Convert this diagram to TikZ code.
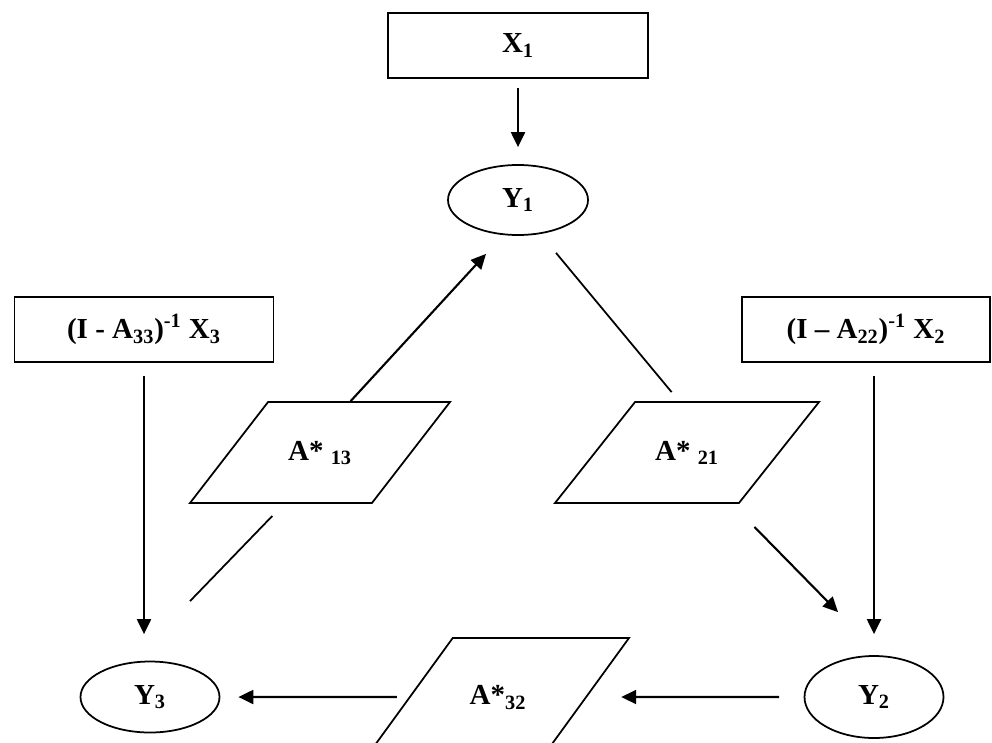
\documentclass[tikz,border=0pt]{standalone}
\usepackage{fontspec}
\setmainfont{Liberation Serif}
\usetikzlibrary{arrows.meta,shapes.geometric,calc}

\begin{document}
\begin{tikzpicture}[
    box/.style={draw, line width=1pt, inner sep=0pt, font=\bfseries\fontsize{16.5}{19}\selectfont},
    oval/.style={draw, ellipse, line width=1pt, inner sep=0pt, font=\bfseries\fontsize{16.5}{19}\selectfont},
    para/.style={draw, trapezium, trapezium stretches body, line width=1pt, inner xsep=0pt,
        text height=0.4cm, text depth=0.1cm, font=\bfseries\fontsize{16.5}{19}\selectfont},
    arr/.style={-{Triangle[length=0.3cm, width=0.28cm]}, line width=1.2pt},
    ln/.style={line width=1pt}
]
\useasboundingbox (0,0) rectangle (19.84,-14.84);
\clip (0,0) rectangle (19.84,-14.84);

\node[box, minimum width=5.2cm, minimum height=1.3cm] (x1) at (10.36,-0.91) {X\textsubscript{1}};
\node[oval, minimum width=2.8cm, minimum height=1.4cm] (y1) at (10.36,-4.0) {Y\textsubscript{1}};
\node[box, minimum width=5.18cm, minimum height=1.3cm] (lbox) at (2.88,-6.59) {(I - A\textsubscript{33})\textsuperscript{-1} X\textsubscript{3}};
\node[box, minimum width=4.96cm, minimum height=1.3cm] (rbox) at (17.32,-6.59) {(I – A\textsubscript{22})\textsuperscript{-1} X\textsubscript{2}};

\node[para, trapezium left angle=52.3, trapezium right angle=127.7, inner ysep=0.76cm, minimum width=5.2cm] (a13) at (6.4,-9.05) {A* \textsubscript{13}};
\node[para, trapezium left angle=51.6, trapezium right angle=128.4, inner ysep=0.76cm, minimum width=5.28cm] (a21) at (13.74,-9.05) {A* \textsubscript{21}};
\node[para, trapezium left angle=54, trapezium right angle=126, inner ysep=0.93cm, minimum width=5.24cm] (a32) at (9.96,-13.94) {A*\textsubscript{32}};

\node[oval, minimum width=2.78cm, minimum height=1.64cm] (y2) at (17.48,-13.94) {Y\textsubscript{2}};
\node[oval, minimum width=2.78cm, minimum height=1.42cm] (y3) at (3.0,-13.94) {Y\textsubscript{3}};

\draw[arr, shorten <=0.18cm, shorten >=0.34cm] (x1) -- (y1);
\draw[arr] ([xshift=1.66cm]a13.top left corner) -- ([xshift=-0.64cm,yshift=-0.36cm]y1.south);
\draw[ln] ([xshift=0.76cm,yshift=-0.34cm]y1.south) -- ([xshift=0.74cm,yshift=0.18cm]a21.top left corner);
\draw[arr] ([xshift=0.3cm,yshift=-0.46cm]a21.bottom right corner) -- ([xshift=-0.72cm,yshift=0.86cm]y2.north);
\draw[arr, shorten <=0.26cm, shorten >=0.42cm] (rbox.south -| y2.north) -- (y2.north);
\draw[arr, shorten <=0.26cm, shorten >=0.53cm] (lbox.south) -- (lbox.south |- y3.north);
\draw[ln] ([xshift=-2.0cm,yshift=-0.24cm]a13.bottom right corner) -- ([xshift=0.8cm,yshift=1.19cm]y3.north);
\draw[arr, shorten <=0.49cm, shorten >=0.68cm] (y2) -- (a32);
\draw[arr, shorten <=0.24cm, shorten >=0.36cm] (a32) -- (y3);
\end{tikzpicture}
\end{document}
